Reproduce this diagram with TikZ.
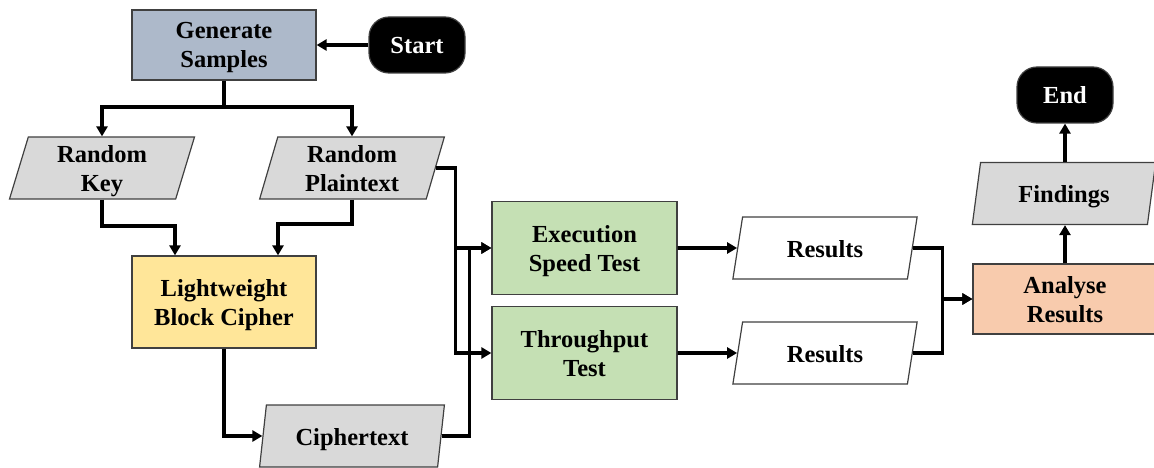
\documentclass[tikz,border=0pt]{standalone}
\usepackage{fontspec}
\setmainfont{Liberation Serif}
\usetikzlibrary{shapes.geometric,arrows.meta}
\definecolor{genblue}{HTML}{ADB9CA}
\definecolor{cipheryellow}{HTML}{FFE699}
\definecolor{testgreen}{HTML}{C5E0B4}
\definecolor{anaorange}{HTML}{F8CBAD}
\definecolor{datagray}{HTML}{D9D9D9}
\definecolor{edgegray}{HTML}{404040}
\begin{document}
\begin{tikzpicture}[x=1pt,y=-1pt,
  base/.style={draw=edgegray, line width=1.2pt, font=\bfseries\fontsize{24.5}{29}\selectfont, align=center, inner sep=0pt},
  oneline/.style={text height=18pt, text depth=0pt},
  twoline/.style={text height=46pt, text depth=0pt},
  procbox/.style={base, rectangle, minimum width=184pt, minimum height=70pt},
  databox/.style={base, trapezium, trapezium left angle=76, trapezium right angle=104,
    trapezium stretches=true, minimum width=185pt, minimum height=62pt},
  termbox/.style={base, oneline, fill=black, text=white, rounded corners=20pt, minimum width=96pt, minimum height=56pt},
  arr/.style={line width=3.8pt, -{Triangle[length=10pt,width=11pt]}}]
\useasboundingbox (0,0) rectangle (1154,468);
\clip (0,0) rectangle (1154,468);

% process and data nodes
\node[procbox, twoline, fill=genblue] (gen) at (224,45) {Generate\\Samples};
\node[termbox] (start) at (417,45) {Start};
\node[databox, twoline, fill=datagray] (key) at (102,168) {Random\\Key};
\node[databox, twoline, fill=datagray] (plain) at (352,168) {Random\\Plaintext};
\node[procbox, twoline, fill=cipheryellow, minimum height=92pt] (lbc) at (224,302) {Lightweight\\Block Cipher};
\node[databox, oneline, fill=datagray] (cipher) at (352,436) {Ciphertext};
\node[procbox, twoline, fill=testgreen, minimum width=185pt, minimum height=93pt] (exec) at (584.5,248) {Execution\\Speed Test};
\node[procbox, twoline, fill=testgreen, minimum width=185pt, minimum height=93pt] (thru) at (584.5,353) {Throughput\\Test};
\node[databox, oneline, fill=white] (res1) at (825,248) {Results};
\node[databox, oneline, fill=white] (res2) at (825,353) {Results};
\node[procbox, twoline, fill=anaorange] (ana) at (1065,299) {Analyse\\Results};
\node[databox, oneline, fill=datagray] (find) at (1064,193.5) {Findings};
\node[termbox] (end) at (1065,95) {End};

% connectors
\coordinate (split) at (224,107);
\draw[arr] (start.west) -- (gen.east);
\draw[arr] (gen.south) -- (split) -| (key.center |- key.north);
\draw[arr] (split) -| (plain.center |- plain.north);
\draw[arr] (key.center |- key.south) -- ++(0,26) -| ([xshift=-49pt]lbc.north);
\draw[arr] (plain.center |- plain.south) -- ++(0,24) -| ([xshift=54pt]lbc.north);
\draw[arr] (lbc.south) |- (cipher.west);
\draw[arr] (cipher.east) -| ([xshift=-22pt]exec.west) -- (exec.west);
\draw[arr] (plain.east) -| ([xshift=-36pt]thru.west) -- (thru.west);
\draw[arr] ([xshift=-36pt]exec.west) -- (exec.west);
\draw[arr] (exec.east) -- (res1.west);
\draw[arr] (thru.east) -- (res2.west);
\draw[arr] (res1.east) -| ([xshift=-30pt]ana.west) -- (ana.west);
\draw[arr] (res2.east) -| ([xshift=-30pt]ana.west) -- (ana.west);
\draw[arr] (ana.north) -- (ana.north |- find.south);
\draw[arr] (end.south |- find.north) -- (end.south);
\end{tikzpicture}
\end{document}
